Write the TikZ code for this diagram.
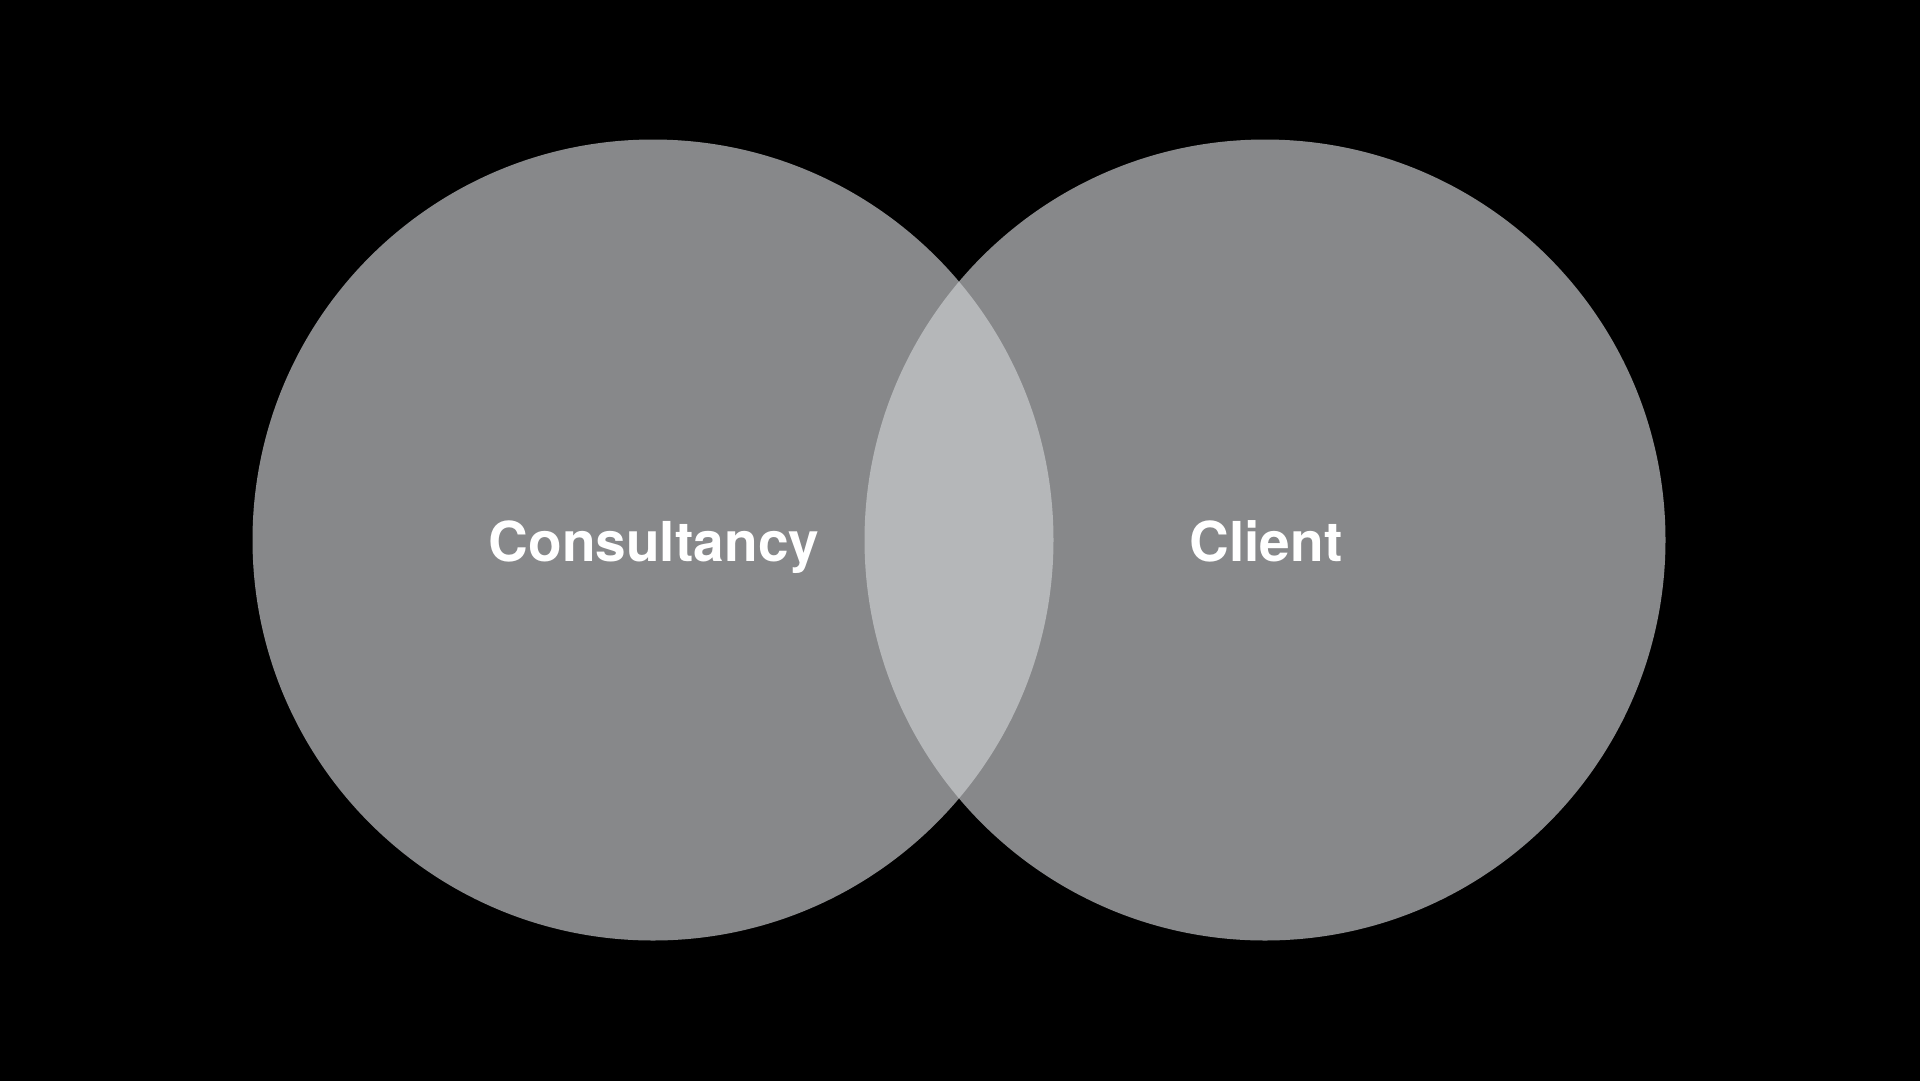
\documentclass[tikz,border=0pt]{standalone}
\usepackage{fontspec}
\setmainfont{TeX Gyre Heros}
\definecolor{circgray}{HTML}{87888A}
\definecolor{lensgray}{HTML}{B5B7B9}
\begin{document}
\begin{tikzpicture}[x=1pt,y=-1pt,
  venn/.style={fill=circgray,draw=none},
  lbl/.style={text=white,font=\fontsize{55}{60}\selectfont\bfseries,inner sep=0pt,anchor=base}]
\useasboundingbox (0,0) rectangle (1920,1080);
\fill[black] (-3,-3) rectangle (1923,1083);
\fill[venn] (653,540) circle (400.5);
\fill[venn] (1265,540) circle (400.5);
\begin{scope}
  \clip (653,540) circle (400.5);
  \fill[lensgray] (1265,540) circle (400.5);
\end{scope}
\node[lbl] (cons) at (654,561) {Consultancy};
\node[lbl] (cli) at (1266,561) {Client};
\end{tikzpicture}
\end{document}
